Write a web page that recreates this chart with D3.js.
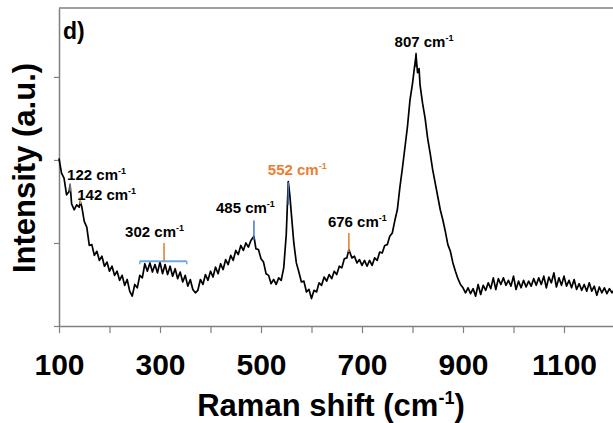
<!DOCTYPE html>
<html>
<head>
<meta charset="utf-8">
<script src="https://cdn.jsdelivr.net/npm/d3@7"></script>
<style>
  body { margin: 0; background: #fff; }
  text { font-family: "Liberation Sans", Arial, sans-serif; font-weight: bold; }
</style>
</head>
<body>
<div class="chart"></div>
<script>
// spectrum (Raman shift in cm-1, intensity in tick units)
var shift = [100,105,110,115,120,122,125,130,135,140,142,145,150,155,160,165,170,175,180,185,
  190,195,200,205,210,215,220,225,230,235,240,245,250,255,260,265,270,275,280,285,
  290,295,300,305,310,315,320,325,330,335,340,345,350,355,360,365,370,375,380,385,
  390,395,400,405,410,415,420,425,430,435,440,445,450,455,460,465,470,475,480,486,
  490,495,500,505,510,515,520,525,530,535,540,545,550,554,557,560,565,570,575,580,
  585,590,595,600,605,610,615,620,625,630,635,640,645,650,655,660,665,670,674,680,
  685,690,695,700,705,710,715,720,725,730,735,740,745,750,755,760,765,770,775,780,
  785,790,795,800,804,807,810,813,815,820,825,830,835,840,845,850,855,860,865,870,
  875,880,885,890,895,900,905,910,915,920,925,930,935,940,945,950,955,960,965,970,
  975,980,985,990,995,1000,1005,1010,1015,1020,1025,1030,1035,1040,1045,1050,1055,1060,1065,1070,
  1075,1080,1085,1090,1095,1100,1105,1110,1115,1120,1125,1130,1135,1140,1145,1150,1155,1160,1165,1170,
  1175,1180,1185,1190,1195,1200];
var intensity = [2.02,1.84,1.78,1.58,1.62,1.70,1.47,1.40,1.46,1.43,1.50,1.44,1.26,1.19,0.97,0.98,0.85,0.90,0.79,0.84,
  0.72,0.77,0.66,0.72,0.61,0.66,0.55,0.61,0.49,0.56,0.42,0.36,0.50,0.46,0.61,0.58,0.75,0.66,0.76,0.65,
  0.74,0.64,0.77,0.63,0.74,0.62,0.72,0.60,0.69,0.57,0.65,0.53,0.61,0.48,0.56,0.44,0.40,0.43,0.56,0.50,
  0.62,0.55,0.66,0.59,0.71,0.63,0.75,0.68,0.80,0.74,0.85,0.79,0.91,0.86,0.97,0.91,1.00,0.95,1.03,1.08,
  0.93,0.92,0.81,0.77,0.63,0.61,0.51,0.56,0.50,0.58,0.55,0.70,1.10,1.74,1.58,1.36,1.00,0.76,0.65,0.53,
  0.54,0.41,0.44,0.33,0.43,0.41,0.52,0.49,0.59,0.54,0.62,0.57,0.66,0.62,0.72,0.70,0.81,0.82,0.92,0.82,
  0.84,0.76,0.80,0.73,0.79,0.72,0.79,0.73,0.82,0.79,0.89,0.88,0.97,0.98,1.08,1.12,1.27,1.40,1.67,1.90,
  2.15,2.40,2.72,2.92,3.12,3.26,3.05,3.10,2.90,2.68,2.50,2.26,2.08,1.88,1.72,1.56,1.40,1.28,1.14,0.98,
  0.90,0.76,0.66,0.57,0.50,0.46,0.40,0.46,0.39,0.45,0.36,0.50,0.38,0.49,0.43,0.52,0.45,0.58,0.44,0.57,
  0.50,0.58,0.49,0.55,0.48,0.60,0.44,0.54,0.46,0.55,0.47,0.54,0.48,0.57,0.49,0.58,0.50,0.60,0.46,0.59,
  0.52,0.64,0.47,0.58,0.49,0.60,0.48,0.55,0.46,0.56,0.44,0.51,0.43,0.50,0.42,0.52,0.42,0.48,0.37,0.47,
  0.40,0.46,0.39,0.45,0.40,0.44];

// peak annotations
var peakPos   = [122, 142, 308, 486, 554, 674, 807];
var peakText  = ['122', '142', '302', '485', '552', '676', '807'];
var markTop   = [1.72, 1.55, 1.00, 1.27, 1.73, 1.12, 3.29];
var markBot   = [1.62, 1.47, 0.78, 1.04, 1.46, 0.89, 3.12];
var markColor = ['#888888', '#c9b12a', '#e07b2a', '#4472c4', '#4472c4', '#e07b2a', '#000000'];
var textColor = ['#000', '#000', '#000', '#000', '#ed7d31', '#000', '#000'];
var bracket   = [260, 353];   // blue bar under 302 cm-1

var xTicks = [100, 200, 300, 400, 500, 600, 700, 800, 900, 1000, 1100, 1200];
var xLabels = [100, 300, 500, 700, 900, 1100];
var yTicks = [0, 1, 2, 3];

var svgWidth = 613;
var svgHeight = 423;
var margin = {top: 8, left: 59, bottom: 97};

var svg = d3.select('.chart')
    .append('svg')
    .attr('width', svgWidth)
    .attr('height', svgHeight);

var x = d3.scaleLinear().domain([100, 1200]).range([margin.left, 614.5]);
var y = d3.scaleLinear().domain([0, 3.83]).range([svgHeight - margin.bottom, margin.top]);

// frame top
svg.append('line')
    .attr('x1', margin.left).attr('x2', svgWidth)
    .attr('y1', margin.top).attr('y2', margin.top)
    .attr('stroke', '#808080').attr('stroke-width', 1.5);

// x axis
var xAxis = svg.append('g')
    .attr('transform', 'translate(0,' + y(0) + ')')
    .call(d3.axisBottom(x)
        .tickValues(xTicks)
        .tickSize(7)
        .tickSizeOuter(0)
        .tickFormat(function(d) { return xLabels.indexOf(d) >= 0 ? d : ''; }));
xAxis.select('.domain').attr('stroke', '#808080').attr('stroke-width', 1.5);
xAxis.selectAll('.tick line').attr('stroke', '#808080').attr('stroke-width', 1.2);
xAxis.selectAll('.tick text')
    .attr('font-size', '30px')
    .attr('font-family', '"Liberation Sans", Arial, sans-serif')
    .attr('font-weight', 'bold')
    .attr('fill', '#000')
    .attr('y', 49)
    .attr('dy', 0);

// y axis
var yAxis = svg.append('g')
    .attr('transform', 'translate(' + margin.left + ',0)')
    .call(d3.axisLeft(y).tickValues(yTicks).tickSize(5).tickSizeOuter(0).tickFormat(''));
yAxis.select('.domain').attr('stroke', '#808080').attr('stroke-width', 1.5);
yAxis.selectAll('.tick line').attr('stroke', '#808080').attr('stroke-width', 1.2);

// spectrum
var pts = shift.map(function(s, i) { return [s, intensity[i]]; });
svg.append('path')
    .datum(pts)
    .attr('fill', 'none')
    .attr('stroke', '#000')
    .attr('stroke-width', 1.7)
    .attr('stroke-linejoin', 'round')
    .attr('d', d3.line()
        .x(function(d) { return x(d[0]); })
        .y(function(d) { return y(d[1]); }));

// blue bracket under 302
svg.append('line')
    .attr('x1', x(bracket[0])).attr('x2', x(bracket[1]))
    .attr('y1', y(0.78)).attr('y2', y(0.78))
    .attr('stroke', '#6fa8dc').attr('stroke-width', 2);
svg.selectAll('.brEnd')
    .data(bracket)
    .enter()
    .append('line')
    .attr('x1', function(d) { return x(d); }).attr('x2', function(d) { return x(d); })
    .attr('y1', y(0.78)).attr('y2', y(0.78) + 3)
    .attr('stroke', '#6fa8dc').attr('stroke-width', 1.5);

// marker lines
svg.selectAll('.mark')
    .data(peakPos)
    .enter()
    .append('line')
    .attr('x1', function(d) { return x(d); })
    .attr('x2', function(d) { return x(d); })
    .attr('y1', function(d, i) { return y(markTop[i]); })
    .attr('y2', function(d, i) { return y(markBot[i]); })
    .attr('stroke', function(d, i) { return markColor[i]; })
    .attr('stroke-width', 1.5);

// peak labels
var labelDx = [-3, -3, -9.5, -8.5, 9, 8.5, 8];
var labelAnchor = ['start', 'start', 'middle', 'middle', 'middle', 'middle', 'middle'];
var labelDy = [-3, 3, -6, -8, -7, -6, -6];
var labels = svg.selectAll('.peakLabel')
    .data(peakPos)
    .enter()
    .append('text')
    .attr('x', function(d, i) { return x(d) + labelDx[i]; })
    .attr('y', function(d, i) { return y(markTop[i]) + labelDy[i]; })
    .attr('text-anchor', function(d, i) { return labelAnchor[i]; })
    .attr('font-size', '15px')
    .attr('fill', function(d, i) { return textColor[i]; });
labels.append('tspan').text(function(d, i) { return peakText[i] + ' cm'; });
labels.append('tspan').attr('font-size', '9px').attr('dy', -6).text('-1');

// panel letter
svg.append('text')
    .attr('x', 63).attr('y', 39)
    .attr('font-size', '23px')
    .text('d)');

// x axis title
var xt = svg.append('text')
    .attr('x', 331).attr('y', 416)
    .attr('text-anchor', 'middle')
    .attr('font-size', '31px');
xt.append('tspan').text('Raman shift (cm');
xt.append('tspan').attr('font-size', '18px').attr('dy', -12).text('-1');
xt.append('tspan').attr('dy', 12).text(')');

// y axis title
svg.append('text')
    .attr('transform', 'translate(35,168) rotate(-90)')
    .attr('text-anchor', 'middle')
    .attr('font-size', '31px')
    .text('Intensity (a.u.)');
</script>
</body>
</html>
